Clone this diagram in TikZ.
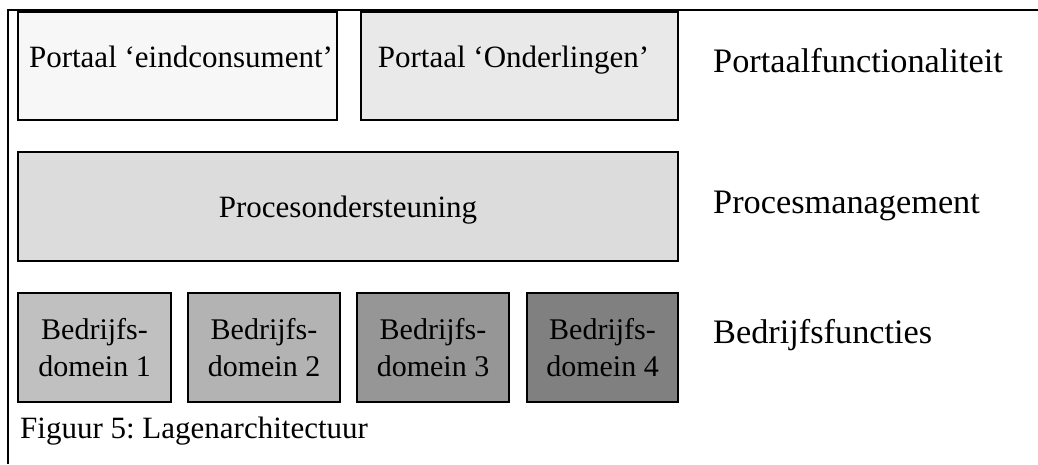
\documentclass[tikz,border=0pt]{standalone}
\usepackage{fontspec}
\setmainfont{Liberation Serif}
\frenchspacing
\begin{document}
\begin{tikzpicture}[x=1pt,y=-1pt,
  layerbox/.style={draw=black, line width=1.3pt, rectangle, inner sep=0pt, outer sep=0pt, anchor=north west},
  boxtext/.style={inner sep=0pt, anchor=base, font=\fontsize{31}{37}\selectfont},
  domaintext/.style={align=center, inner sep=0pt, font=\fontsize{30}{37}\selectfont},
  layertext/.style={inner sep=0pt, anchor=base west, font=\fontsize{34.3}{40}\selectfont}
]
\useasboundingbox (0,0) rectangle (1038,464);
\definecolor{fillA}{HTML}{F7F7F7}
\definecolor{fillB}{HTML}{E9E9E9}
\definecolor{fillC}{HTML}{DCDCDC}
\definecolor{fillD1}{HTML}{C0C0C0}
\definecolor{fillD2}{HTML}{B3B3B3}
\definecolor{fillD3}{HTML}{969696}
\definecolor{fillD4}{HTML}{808080}

% frame
\draw[line width=2pt] (8,464) -- (8,10) -- (1038,10);

% portal layer
\node[layerbox, fill=fillA, minimum width=319pt, minimum height=108pt] (pe) at (18,12) {};
\node[layerbox, fill=fillB, minimum width=317pt, minimum height=108pt] (po) at (361,12) {};
\node[boxtext] (pet) at (181,67) {Portaal ‘eindconsument’};
\node[boxtext] (pot) at (513.5,67) {Portaal ‘Onderlingen’};

% process layer
\node[layerbox, fill=fillC, minimum width=660pt, minimum height=109pt] (pr) at (18,152) {};
\node[boxtext] (prt) at (348,217) {Procesondersteuning};

% business domains
\node[layerbox, fill=fillD1, minimum width=153pt, minimum height=109pt] (d1) at (18,293) {};
\node[layerbox, fill=fillD2, minimum width=152pt, minimum height=109pt] (d2) at (188,293) {};
\node[layerbox, fill=fillD3, minimum width=152pt, minimum height=109pt] (d3) at (357,293) {};
\node[layerbox, fill=fillD4, minimum width=151pt, minimum height=109pt] (d4) at (527,293) {};
\node[domaintext] (d1t) at (d1.center) {Bedrijfs-\\domein 1};
\node[domaintext] (d2t) at (d2.center) {Bedrijfs-\\domein 2};
\node[domaintext] (d3t) at (d3.center) {Bedrijfs-\\domein 3};
\node[domaintext] (d4t) at (d4.center) {Bedrijfs-\\domein 4};

% layer names
\node[layertext] (l1) at (713,72) {Portaalfunctionaliteit};
\node[layertext] (l2) at (713,213) {Procesmanagement};
\node[layertext] (l3) at (713,343) {Bedrijfsfuncties};

% caption
\node[boxtext, anchor=base west] (cap) at (20,438) {Figuur 5: Lagenarchitectuur};
\end{tikzpicture}
\end{document}
